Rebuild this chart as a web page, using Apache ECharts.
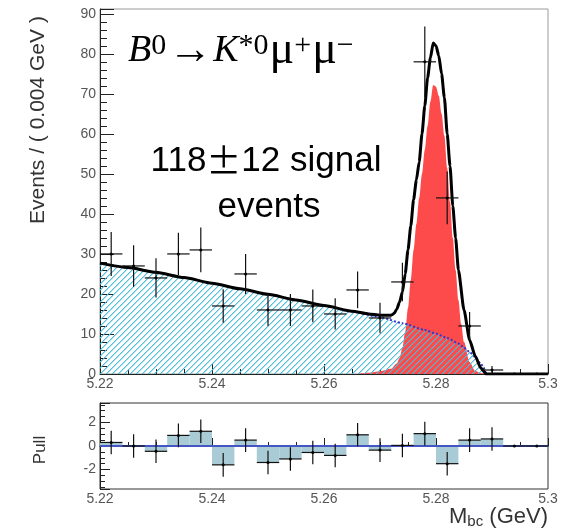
<!DOCTYPE html>
<html>
<head>
<meta charset="utf-8">
<script src="https://cdn.jsdelivr.net/npm/echarts@6/dist/echarts.min.js"></script>
<style>html,body{margin:0;padding:0;background:#fff}#c{width:563px;height:532px}</style>
</head>
<body>
<div id="c"></div>
<script>
// ---------- data ----------
const binCenters = [5.222,5.226,5.230,5.234,5.238,5.242,5.246,5.250,5.254,5.258,5.262,5.266,5.270,5.274,5.278,5.282,5.286,5.290,5.294,5.298];
const counts     = [30,27,24,30,31,17,25,16,16,17,15,21,14,23,78,44,12,1,0,0];
const countErr   = [5.5,5.2,4.9,5.3,5.6,4.2,5.0,4.0,4.0,4.1,3.9,4.6,3.8,4.8,8.8,6.6,3.5,1.0,0,0];
const pulls      = [0.3,0.0,-0.45,0.9,1.25,-1.6,0.5,-1.4,-1.1,-0.55,-0.8,0.95,-0.35,0.05,1.05,-1.5,0.5,0.6,0,0];
const pullErr    = [1,1,1,1,1,1,1,1,1,1,1,1,1,1,1,1,1,1,0,0];

const bgX  = [5.220,5.225,5.230,5.235,5.240,5.245,5.250,5.255,5.260,5.265,5.270,5.274,5.278,5.280,5.282,5.284,5.285,5.286,5.287,5.288,5.2885,5.289,5.300];
const bgY  = [27.7,26.6,25.4,24.1,22.7,21.3,19.9,18.5,17.1,15.6,14.2,12.7,11.0,10.1,9.0,7.6,6.6,5.5,4.2,2.6,1.6,0,0];

const sigX = [5.266,5.268,5.270,5.272,5.273,5.2735,5.274,5.2745,5.275,5.2755,5.276,5.2765,5.277,5.2775,5.278,5.2785,5.279,5.2795,5.280,5.2805,5.281,5.2815,5.282,5.2825,5.283,5.2835,5.284,5.2845,5.285,5.286,5.287,5.288,5.289];
const sigY = [0,0.3,0.7,1.3,2.6,4,6.5,10.5,16.5,23.5,31,37.5,44,50,56,62,68,72.2,71.8,69.5,65,59.5,51.5,43,34,26,18.5,12.5,8,3,0.8,0.2,0];

const totX = [5.220,5.225,5.230,5.235,5.240,5.245,5.250,5.255,5.260,5.265,5.268,5.270,5.272,5.2725,5.273,5.2735,5.274,5.2745,5.275,5.2755,5.276,5.2765,5.277,5.2775,5.278,5.2785,5.279,5.2795,5.280,5.2805,5.281,5.2815,5.282,5.2825,5.283,5.2835,5.284,5.285,5.286,5.287,5.288,5.289,5.300];
const totY = [27.7,26.6,25.4,24.1,22.7,21.3,19.9,18.5,17.1,15.7,15.0,14.7,14.7,15.1,16.2,18.0,20.5,25,31,37,43.6,48.5,53,60,67,74,79,82.7,82,79.5,75,69,60,52,42,34,26,16,8.5,4.5,1.5,0,0];

const xTicks = [5.22, 5.24, 5.26, 5.28, 5.30];
const binWidth = 0.004;

// ---------- build ----------
const zip = (a, b) => a.map((v, i) => [v, b[i]]);
const tile = document.createElement('canvas');
tile.width = 6; tile.height = 6;
const tctx = tile.getContext('2d');
tctx.clearRect(0, 0, 6, 6);
tctx.fillStyle = 'rgba(70,190,220,0.95)';
for (let i = 0; i < 6; i++) tctx.fillRect(i, 5 - i, 1, 1);
tctx.fillStyle = 'rgba(70,190,220,0.45)';
for (let i = 0; i < 6; i++) tctx.fillRect(i, (6 - i) % 6, 1, 1);

const fmtX = v => { const r = Math.round(v * 100) / 100; return xTicks.some(t => Math.abs(t - r) < 1e-6) ? String(r) : ''; };
const labelStyle = {color: '#555', fontFamily: 'Liberation Sans', fontSize: 14};

function crossItem(params, api) {
  const x = api.value(0), y = api.value(1), e = api.value(2);
  const c = api.coord([x, y]);
  const l = api.coord([x - binWidth / 2, y]);
  const r = api.coord([x + binWidth / 2, y]);
  const t = api.coord([x, y + e]);
  const b = api.coord([x, y - e]);
  return {type: 'group', children: [
    {type: 'line', shape: {x1: l[0], y1: c[1], x2: r[0], y2: c[1]}, style: {stroke: '#111', lineWidth: 1.2}},
    {type: 'line', shape: {x1: c[0], y1: t[1], x2: c[0], y2: b[1]}, style: {stroke: '#111', lineWidth: 1.2}},
    {type: 'circle', shape: {cx: c[0], cy: c[1], r: 1.5}, style: {fill: '#000'}}
  ]};
}
function pullBar(params, api) {
  const x = api.value(0), p = api.value(1);
  const a = api.coord([x - binWidth / 2, p]);
  const b = api.coord([x + binWidth / 2, 0]);
  return {type: 'rect', shape: {x: a[0], y: Math.min(a[1], b[1]), width: b[0] - a[0], height: Math.abs(b[1] - a[1])},
    style: {fill: '#a9cbd6'}};
}

const chart = echarts.init(document.getElementById('c'));
chart.setOption({
  animation: false,
  grid: [
    {left: 100, top: 9, width: 448, height: 365, show: true, borderColor: '#9a9a9a', borderWidth: 1},
    {left: 100, top: 403, width: 448, height: 86, show: true, borderColor: '#333', borderWidth: 1}
  ],
  xAxis: [
    {type: 'value', gridIndex: 0, min: 5.22, max: 5.30, interval: 0.02,
     axisLine: {lineStyle: {color: '#222'}}, axisTick: {inside: true, length: 10, lineStyle: {color: '#222'}},
     minorTick: {show: true, splitNumber: 4, length: 5, lineStyle: {color: '#222'}},
     splitLine: {show: false}, axisLabel: Object.assign({margin: 3, formatter: fmtX}, labelStyle)},
    {type: 'value', gridIndex: 1, min: 5.22, max: 5.30, interval: 0.02,
     axisLine: {lineStyle: {color: '#222'}}, axisTick: {inside: true, length: 8, lineStyle: {color: '#222'}},
     minorTick: {show: true, splitNumber: 4, length: 4, lineStyle: {color: '#222'}},
     splitLine: {show: false}, axisLabel: Object.assign({margin: 3, formatter: fmtX}, labelStyle)}
  ],
  yAxis: [
    {type: 'value', gridIndex: 0, min: 0, max: 91.2, interval: 10,
     axisLine: {show: true, lineStyle: {color: '#222'}}, axisTick: {inside: true, length: 14, lineStyle: {color: '#222'}},
     minorTick: {show: true, splitNumber: 5, length: 7, lineStyle: {color: '#222'}},
     splitLine: {show: false},
     axisLabel: Object.assign({margin: 4, formatter: v => (Math.abs(v % 10) < 1e-6 ? String(v) : '')}, labelStyle)},
    {type: 'value', gridIndex: 1, min: -3.65, max: 3.65, splitNumber: 4, minInterval: 2, maxInterval: 2,
     axisLine: {show: true, lineStyle: {color: '#222'}}, axisTick: {inside: true, length: 10, lineStyle: {color: '#222'}},
     minorTick: {show: true, splitNumber: 4, length: 5, lineStyle: {color: '#222'}},
     splitLine: {show: false},
     axisLabel: Object.assign({margin: 4, formatter: v => (Math.abs(Math.round(v) - v) < 1e-6 && Math.round(v) % 2 === 0 ? String(Math.round(v)) : '')}, labelStyle)}
  ],
  series: [
    {name: 'signal', type: 'line', xAxisIndex: 0, yAxisIndex: 0, data: zip(sigX, sigY), showSymbol: false,
     smooth: 0.3, smoothMonotone: 'x', lineStyle: {width: 0}, areaStyle: {color: '#fd4a4a', opacity: 1}, z: 2},
    {name: 'background', type: 'line', xAxisIndex: 0, yAxisIndex: 0, data: zip(bgX, bgY), showSymbol: false,
     smooth: 0.2, smoothMonotone: 'x', lineStyle: {width: 2, color: '#3434cc', type: 'dotted'},
     areaStyle: {color: {image: tile, repeat: 'repeat'}, opacity: 1}, z: 3},
    {name: 'total', type: 'line', xAxisIndex: 0, yAxisIndex: 0, data: zip(totX, totY), showSymbol: false,
     smooth: 0.2, smoothMonotone: 'x', lineStyle: {width: 3, color: '#000'}, z: 4},
    {name: 'data', type: 'custom', xAxisIndex: 0, yAxisIndex: 0, clip: true,
     data: binCenters.map((x, i) => [x, counts[i], countErr[i]]), encode: {x: 0, y: 1}, renderItem: crossItem, z: 5},
    {name: 'pullbars', type: 'custom', xAxisIndex: 1, yAxisIndex: 1, clip: true,
     data: binCenters.map((x, i) => [x, pulls[i]]), encode: {x: 0, y: 1}, renderItem: pullBar, z: 2},
    {name: 'zero', type: 'line', xAxisIndex: 1, yAxisIndex: 1, data: [[5.22, 0], [5.30, 0]], showSymbol: false,
     lineStyle: {width: 2, color: '#4455c4'}, z: 3},
    {name: 'pulls', type: 'custom', xAxisIndex: 1, yAxisIndex: 1, clip: true,
     data: binCenters.map((x, i) => [x, pulls[i], pullErr[i]]), encode: {x: 0, y: 1}, renderItem: crossItem, z: 4}
  ],
  graphic: [
    {type: 'text', x: 38, y: 120, rotation: Math.PI / 2,
     style: {text: 'Events / ( 0.004 GeV )', fill: '#333', font: '21px "Liberation Sans"', align: 'center', verticalAlign: 'middle'}},
    {type: 'text', x: 40, y: 450, rotation: Math.PI / 2,
     style: {text: 'Pull', fill: '#333', font: '17px "Liberation Sans"', align: 'center', verticalAlign: 'middle'}},
    {type: 'text', x: 548, y: 517,
     style: {text: '{m|M}{s|bc}{m| (GeV)}', align: 'right', verticalAlign: 'middle', fill: '#333',
       rich: {m: {fontFamily: 'Liberation Sans', fontSize: 22, fill: '#333'},
              s: {fontFamily: 'Liberation Sans', fontSize: 15, fill: '#333', padding: [9, 0, 0, 0]}}}},
    {type: 'text', x: 128, y: 51,
     style: {text: '{i|B}{s|0}{a|→}{i|K}{s|*0}{m|μ}{s|+}{m|μ}{s|−}', align: 'left', verticalAlign: 'middle', fill: '#000',
       rich: {i: {fontFamily: 'Liberation Serif', fontStyle: 'italic', fontSize: 38, fill: '#000'},
              a: {fontFamily: 'Liberation Serif', fontSize: 44, fill: '#000', padding: [0, 1, 0, 1]},
              m: {fontFamily: 'Liberation Serif', fontSize: 46, fill: '#000'},
              s: {fontFamily: 'Liberation Serif', fontSize: 30, fill: '#000', padding: [0, 1, 10, 0]}}}},
    {type: 'text', x: 266, y: 161,
     style: {text: '{t|118}{p|±}{t|12 signal}', align: 'center', verticalAlign: 'middle', fill: '#000',
       rich: {t: {fontFamily: 'Liberation Sans', fontSize: 35, fill: '#000'},
              p: {fontFamily: 'Noto Sans CJK SC', fontSize: 35, fill: '#000'}}}},
    {type: 'text', x: 269, y: 207,
     style: {text: 'events', align: 'center', verticalAlign: 'middle', fill: '#000', font: '35px "Liberation Sans"'}}
  ]
});
</script>
</body>
</html>
